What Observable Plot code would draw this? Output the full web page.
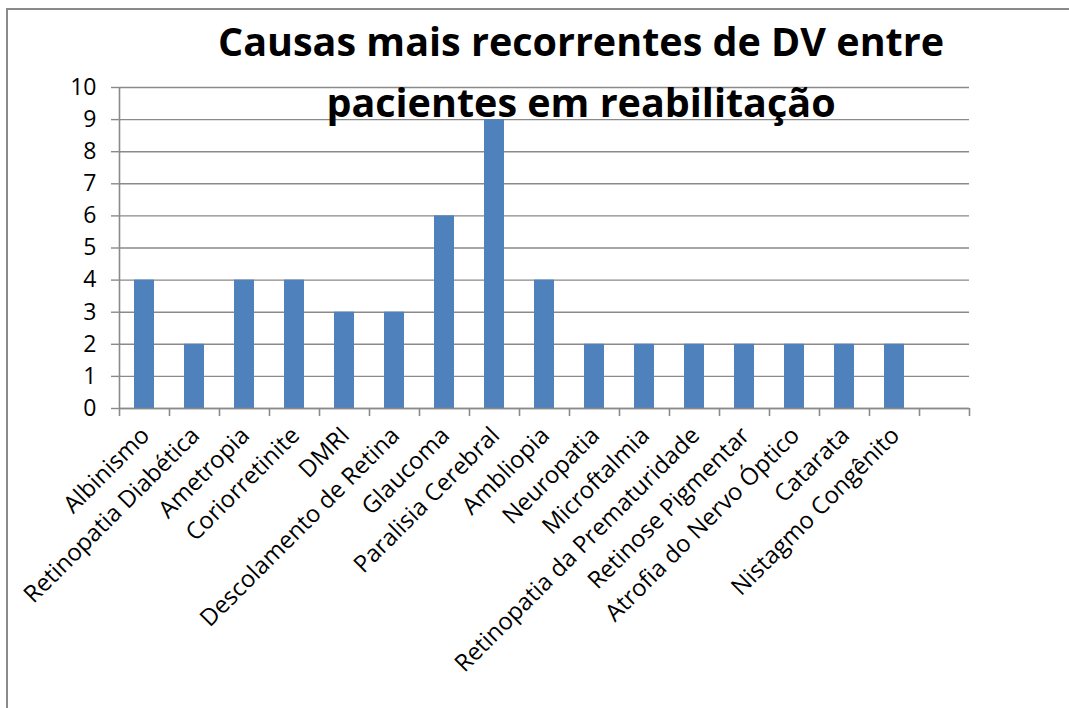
<!DOCTYPE html>
<html>
<head>
<meta charset="utf-8">
<script src="https://cdn.jsdelivr.net/npm/d3@7"></script>
<script src="https://cdn.jsdelivr.net/npm/@observablehq/plot@0.6"></script>
<style>
  html, body { margin: 0; padding: 0; background: #fff; }
  #wrap { position: relative; width: 1069px; height: 708px; overflow: hidden; }
  #frame { position: absolute; left: 6px; top: 8px; width: 1100px; height: 760px; border: 2px solid #8a8a8a; box-sizing: border-box; }
  #title { position: absolute; left: 93px; width: 976px; top: 11px; text-align: center; font-family: "Open Sans", sans-serif; font-weight: bold; font-size: 39.5px; line-height: 61px; color: #000; z-index: 2; }
  #chart { position: absolute; left: 0; top: 0; }
</style>
</head>
<body>
<div id="wrap">
  <div id="frame"></div>
  <div id="chart"></div>
  <div id="title">Causas mais recorrentes de DV entre<br>pacientes em reabilitação</div>
</div>
<script>
const categories = [
  "Albinismo", "Retinopatia Diabética", "Ametropia", "Coriorretinite", "DMRI",
  "Descolamento de Retina", "Glaucoma", "Paralisia Cerebral", "Ambliopia", "Neuropatia",
  "Microftalmia", "Retinopatia da Prematuridade", "Retinose Pigmentar",
  "Atrofia do Nervo Óptico", "Catarata", "Nistagmo Congênito"
];
const values = [4, 2, 4, 4, 3, 3, 6, 9, 4, 2, 2, 2, 2, 2, 2, 2];
const slotCount = 17; // 16 categories + one empty slot, as in the original
const yTicks = [0, 1, 2, 3, 4, 5, 6, 7, 8, 9, 10];

const data = categories.map((c, i) => ({i, category: c, value: values[i]}));
const gray = "#8a8a8a";

const chart = Plot.plot({
  width: 1069,
  height: 708,
  marginLeft: 119,
  marginRight: 100,
  marginTop: 87,
  marginBottom: 300,
  style: {fontFamily: "'Open Sans', sans-serif", fontSize: "23px", color: "#000", background: "transparent"},
  x: {domain: [0, slotCount], axis: null, label: null},
  y: {domain: [0, 10], axis: null, label: null},
  marks: [
    Plot.gridY(yTicks, {stroke: gray, strokeOpacity: 1, strokeWidth: 1.4}),
    Plot.axisY({ticks: yTicks, label: null, tickSize: 8, tickPadding: 15, stroke: gray, strokeWidth: 1.4, fontSize: 23, fill: "#000"}),
    Plot.rectY(data, {x1: "i", x2: d => d.i + 1, y: "value", fill: "#4F81BD", insetLeft: 15, insetRight: 15}),
    Plot.ruleX([0], {stroke: gray, strokeWidth: 1.6}),
    Plot.ruleY([0], {stroke: gray, strokeWidth: 1.6}),
    Plot.axisX({ticks: d3.range(0, slotCount + 1), label: null, tickSize: 8, tickFormat: () => "", stroke: gray, strokeWidth: 1.6}),
    Plot.text(data, {x: d => d.i + 0.5, y: 0, text: "category", rotate: -45, textAnchor: "end", lineAnchor: "middle", dx: 1, dy: 23, fontSize: 23.8, fill: "#000"})
  ]
});
document.getElementById("chart").appendChild(chart);
</script>
</body>
</html>
